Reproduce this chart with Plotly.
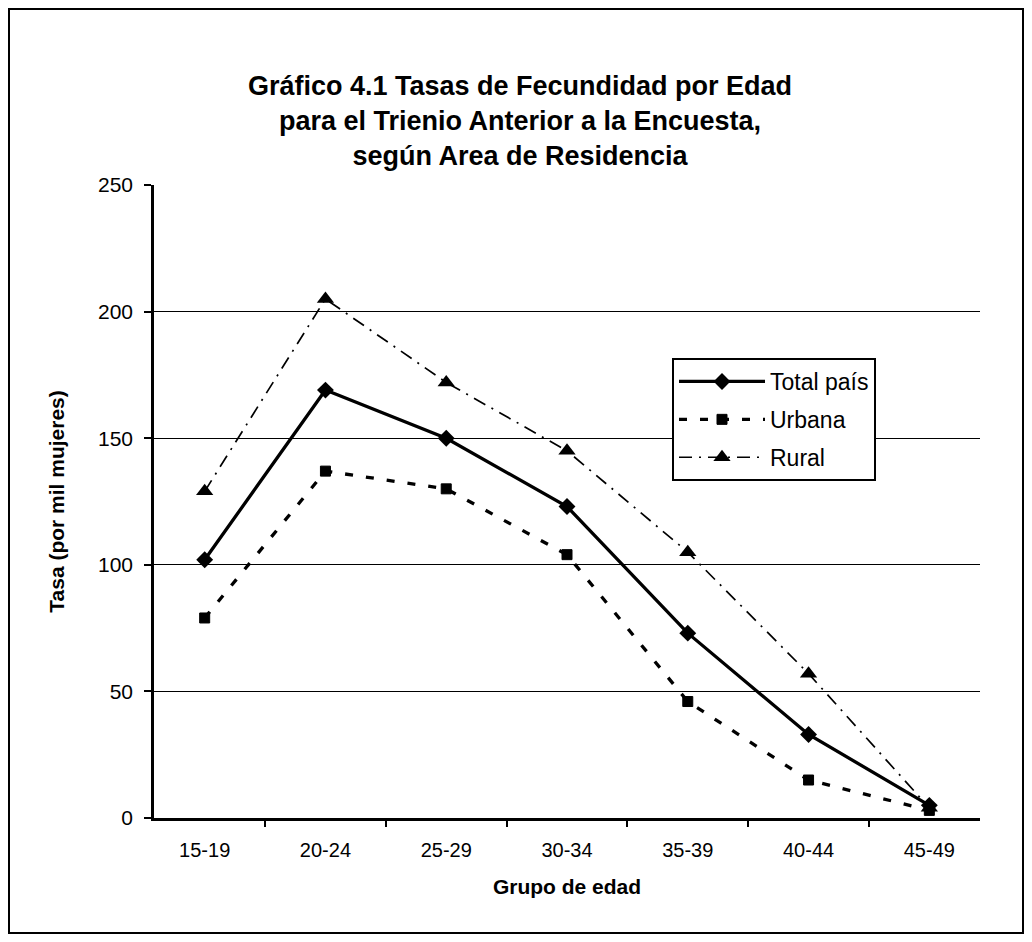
import plotly.graph_objects as go

categories = ["15-19", "20-24", "25-29", "30-34", "35-39", "40-44", "45-49"]
total_pais = [102, 169, 150, 123, 73, 33, 5]
urbana = [79, 137, 130, 104, 46, 15, 3]
rural = [129, 205, 172, 145, 105, 57, 4]

y_ticks = [0, 50, 100, 150, 200, 250]

FONT = "Liberation Sans, Arial, sans-serif"

fig = go.Figure()
fig.add_trace(go.Scatter(
    x=categories, y=total_pais, name="Total país", mode="lines+markers",
    legendgroup="g1",
    line=dict(color="black", width=3.3),
    marker=dict(symbol="diamond", size=13, color="black"),
))
fig.add_trace(go.Scatter(
    x=categories, y=urbana, name="Urbana", mode="lines+markers",
    legendgroup="g2",
    line=dict(color="black", width=3.3, dash="8px,13px"),
    marker=dict(symbol="square", size=10, color="black",
                line=dict(color="black", width=1)),
))
fig.add_trace(go.Scatter(
    x=categories, y=rural, name="Rural", mode="lines+markers",
    legendgroup="g3",
    line=dict(color="black", width=1.7, dash="13px,7px,2px,7px"),
    marker=dict(symbol="triangle-up", size=15, color="black"),
))

# figure pixel coordinates (page body adds an 8px offset)
W, H = 1024, 934
L, R, T, B = 146, 52, 177, 124
pw, ph = W - L - R, H - T - B

def px(x):
    return (x - L) / pw

def py(y):
    return (H - B - y) / ph

fig.add_shape(type="rect", xref="paper", yref="paper",
              x0=px(1), x1=px(1015), y0=py(925), y1=py(1),
              line=dict(color="black", width=2), fillcolor="rgba(0,0,0,0)",
              layer="below")

fig.update_layout(
    width=W, height=H,
    margin=dict(l=L, r=R, t=T, b=B),
    paper_bgcolor="white", plot_bgcolor="white",
    font=dict(family=FONT, color="black", size=20),
    title=dict(
        text="<b>Gráfico 4.1 Tasas de Fecundidad por Edad<br>para el Trienio Anterior a la Encuesta,<br>según Area de Residencia</b>",
        x=0.5, xref="container", xanchor="center",
        y=1 - 87 / H, yref="container", yanchor="middle",
        font=dict(family=FONT, size=27, color="black"),
    ),
    legend=dict(
        x=px(664), y=py(350), xanchor="left", yanchor="top",
        bordercolor="black", borderwidth=2, bgcolor="white",
        font=dict(family=FONT, size=23, color="black"),
        itemwidth=86, tracegroupgap=5,
    ),
    showlegend=True,
)

fig.update_xaxes(
    type="category", categoryorder="array", categoryarray=categories,
    showline=True, linecolor="black", linewidth=2.5,
    ticks="outside", ticklen=6, tickcolor="black", tickwidth=1.5,
    tickson="boundaries", showgrid=False, ticklabelstandoff=12,
    tickfont=dict(family=FONT, size=20, color="black"),
    title=dict(text="<b>Grupo de edad</b>", font=dict(family=FONT, size=21, color="black"), standoff=20),
)
fig.update_yaxes(
    range=[0, 250], tickvals=y_ticks,
    showline=True, linecolor="black", linewidth=2.5,
    ticks="outside", ticklen=7, tickcolor="black", tickwidth=1.5,
    showgrid=True, gridcolor="black", gridwidth=1, zeroline=False,
    ticklabelstandoff=7,
    tickfont=dict(family=FONT, size=21, color="black"),
    title=dict(text="<b>Tasa (por mil mujeres)</b>", font=dict(family=FONT, size=21, color="black"), standoff=28),
)

fig.write_html("out.html")
